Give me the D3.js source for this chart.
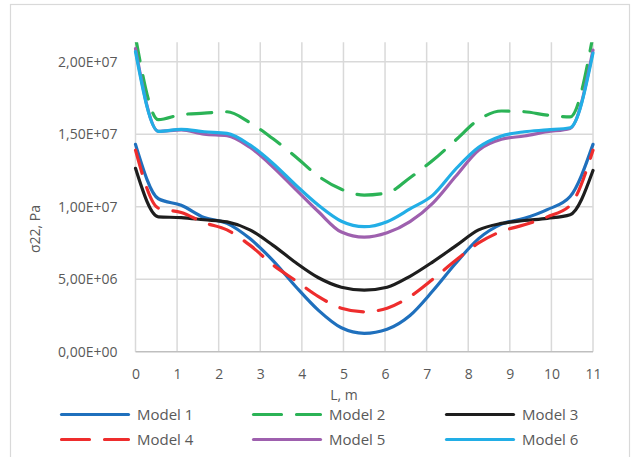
<!DOCTYPE html>
<html lang="en">
<head>
<meta charset="UTF-8">
<title>sigma22</title>
<script src="https://d3js.org/d3.v7.min.js"></script>
<style>
  body { margin: 0; background: #fff; }
  text { font-family: "Open Sans", sans-serif; fill: #595959; }
</style>
</head>
<body>
<svg width="633" height="457"></svg>
<script>
const L = [0, 0.55, 1.1, 1.65, 2.2, 2.75, 3.3, 3.85, 4.4, 4.95, 5.5,
           6.05, 6.6, 7.15, 7.7, 8.25, 8.8, 9.35, 9.9, 10.45, 11];

const model1 = [1.43e7, 1.055e7, 1.01e7, 9.25e6, 8.85e6, 7.8e6, 6.3e6, 4.5e6, 2.85e6, 1.65e6, 1.27e6,
                1.55e6, 2.5e6, 4.2e6, 6.1e6, 7.8e6, 8.8e6, 9.2e6, 9.8e6, 1.07e7, 1.43e7];
const model2 = [2.17e7, 1.6e7, 1.635e7, 1.645e7, 1.655e7, 1.58e7, 1.47e7, 1.345e7, 1.21e7, 1.12e7, 1.08e7,
                1.095e7, 1.2e7, 1.32e7, 1.46e7, 1.6e7, 1.66e7, 1.655e7, 1.632e7, 1.62e7, 2.18e7];
const model3 = [1.265e7, 9.3e6, 9.25e6, 9.1e6, 8.95e6, 8.4e6, 7.35e6, 6.15e6, 5.1e6, 4.45e6, 4.25e6,
                4.45e6, 5.2e6, 6.2e6, 7.3e6, 8.4e6, 8.85e6, 9.05e6, 9.2e6, 9.45e6, 1.25e7];
const model4 = [1.39e7, 9.9e6, 9.6e6, 8.9e6, 8.4e6, 7.35e6, 6.0e6, 4.9e6, 3.8e6, 3.0e6, 2.75e6,
                3.0e6, 3.8e6, 5.0e6, 6.3e6, 7.5e6, 8.3e6, 8.75e6, 9.3e6, 1.01e7, 1.39e7];
const model5 = [2.09e7, 1.52e7, 1.53e7, 1.5e7, 1.49e7, 1.41e7, 1.276e7, 1.12e7, 9.65e6, 8.25e6, 7.9e6,
                8.2e6, 8.97e6, 1.025e7, 1.21e7, 1.39e7, 1.465e7, 1.488e7, 1.517e7, 1.54e7, 2.08e7];
const model6 = [2.07e7, 1.52e7, 1.534e7, 1.517e7, 1.506e7, 1.426e7, 1.3e7, 1.15e7, 1.01e7, 9.0e6, 8.62e6,
                8.97e6, 9.85e6, 1.08e7, 1.26e7, 1.41e7, 1.488e7, 1.517e7, 1.53e7, 1.545e7, 2.06e7];

const xTicks = [0, 1, 2, 3, 4, 5, 6, 7, 8, 9, 10, 11];
const yTicks = [0, 5e6, 1e7, 1.5e7, 2e7];

const series = [
  { name: "Model 1", values: model1, color: "#1f70bd", dash: null },
  { name: "Model 2", values: model2, color: "#2bb356", dash: "24,15" },
  { name: "Model 3", values: model3, color: "#1e1e1e", dash: null },
  { name: "Model 4", values: model4, color: "#ee2d2d", dash: "24,15" },
  { name: "Model 5", values: model5, color: "#9e60ae", dash: null },
  { name: "Model 6", values: model6, color: "#22aee6", dash: null }
];

const svg = d3.select("svg");

// chart border
svg.append("rect")
  .attr("x", 10.5).attr("y", 4.5)
  .attr("width", 619).attr("height", 470)
  .attr("fill", "none").attr("stroke", "#d9d9d9").attr("stroke-width", 1.2);

const x = d3.scaleLinear().domain([0, 11]).range([135.5, 593]);
const y = d3.scaleLinear().domain([0, 2.134e7]).range([351.7, 42.3]);

function sci(v) {
  const [m, e] = v.toExponential(2).split("e");
  const n = +e;
  return m.replace(".", ",") + "E" + (n < 0 ? "-" : "+") + String(Math.abs(n)).padStart(2, "0");
}

// grid
svg.append("g").selectAll("line").data(yTicks.slice(1)).join("line")
  .attr("x1", x(0)).attr("x2", x(11))
  .attr("y1", d => y(d)).attr("y2", d => y(d))
  .attr("stroke", "#d9d9d9").attr("stroke-width", 1.5);
svg.append("g").selectAll("line").data(xTicks).join("line")
  .attr("x1", d => x(d)).attr("x2", d => x(d))
  .attr("y1", y.range()[0]).attr("y2", y.range()[1])
  .attr("stroke", "#d9d9d9").attr("stroke-width", 1.5);
svg.append("line")
  .attr("x1", x(0)).attr("x2", x(11))
  .attr("y1", y(0)).attr("y2", y(0))
  .attr("stroke", "#bfbfbf").attr("stroke-width", 1.5);

// axes labels
const yAxis = svg.append("g")
  .attr("transform", `translate(${x(0)},0)`)
  .call(d3.axisLeft(y).tickValues(yTicks).tickFormat(sci).tickSize(0).tickPadding(18));
yAxis.select(".domain").remove();
yAxis.selectAll("text").style("font-size", "14px").attr("fill", "#595959");

const xAxis = svg.append("g")
  .attr("transform", `translate(0,${y(0)})`)
  .call(d3.axisBottom(x).tickValues(xTicks).tickFormat(d3.format("d")).tickSize(0).tickPadding(17));
xAxis.select(".domain").remove();
xAxis.selectAll("text").style("font-size", "14px").attr("fill", "#595959");

svg.append("text")
  .attr("x", 344).attr("y", 400)
  .attr("text-anchor", "middle")
  .style("font-size", "14px")
  .text("L, m");

svg.append("text")
  .attr("transform", "translate(40,229) rotate(-90)")
  .attr("text-anchor", "middle")
  .style("font-size", "14px")
  .text("σ22, Pa");

// lines
svg.append("clipPath").attr("id", "plot")
  .append("rect")
  .attr("x", x(0) - 3).attr("y", y.range()[1])
  .attr("width", x(11) - x(0) + 6).attr("height", y.range()[0] - y.range()[1]);

const line = d3.line()
  .x((d, i) => x(L[i]))
  .y(d => y(d))
  .curve(d3.curveMonotoneX);

svg.append("g").attr("clip-path", "url(#plot)")
  .selectAll("path").data(series).join("path")
  .attr("d", d => line(d.values))
  .attr("fill", "none")
  .attr("stroke", d => d.color)
  .attr("stroke-width", 3.2)
  .attr("stroke-linecap", "round")
  .attr("stroke-linejoin", "round")
  .attr("stroke-dasharray", d => d.dash);

// legend
const cols = [60, 252, 445];
const rows = [414.5, 439.5];
const leg = svg.append("g").selectAll("g").data(series).join("g")
  .attr("transform", (d, i) => `translate(${cols[i % 3]},${rows[Math.floor(i / 3)]})`);
leg.append("line")
  .attr("x1", 1.5).attr("x2", 68.5)
  .attr("stroke", d => d.color)
  .attr("stroke-width", 3.2)
  .attr("stroke-linecap", "round")
  .attr("stroke-dasharray", d => d.dash ? "28,15" : null);
leg.append("text")
  .attr("x", 77).attr("dy", "0.35em")
  .style("font-size", "15px")
  .text(d => d.name);
</script>
</body>
</html>
